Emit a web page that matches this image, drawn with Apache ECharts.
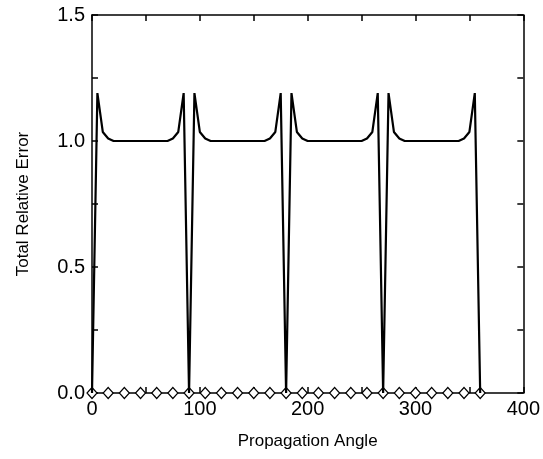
<!DOCTYPE html>
<html><head><meta charset="utf-8">
<script src="https://cdn.jsdelivr.net/npm/echarts@6/dist/echarts.min.js"></script>
<style>html,body{margin:0;padding:0;background:#fff}#c{width:543px;height:459px}</style>
</head><body><div id="c"></div>
<script>
const angles = [0,5,10,15,20,25,30,35,40,45,50,55,60,65,70,75,80,85,
  90,95,100,105,110,115,120,125,130,135,140,145,150,155,160,165,170,175,
  180,185,190,195,200,205,210,215,220,225,230,235,240,245,250,255,260,265,
  270,275,280,285,290,295,300,305,310,315,320,325,330,335,340,345,350,355,360];
const totalError = [0,1.19,1.036,1.01,1.0,1.0,1.0,1.0,1.0,1.0,1.0,1.0,1.0,1.0,1.0,1.01,1.036,1.19,
  0,1.19,1.036,1.01,1.0,1.0,1.0,1.0,1.0,1.0,1.0,1.0,1.0,1.0,1.0,1.01,1.036,1.19,
  0,1.19,1.036,1.01,1.0,1.0,1.0,1.0,1.0,1.0,1.0,1.0,1.0,1.0,1.0,1.01,1.036,1.19,
  0,1.19,1.036,1.01,1.0,1.0,1.0,1.0,1.0,1.0,1.0,1.0,1.0,1.0,1.0,1.01,1.036,1.19,0];
const markerAngles = [0,15,30,45,60,75,90,105,120,135,150,165,180,195,210,225,240,255,270,285,300,315,330,345,360];
const markerValues = [0,0,0,0,0,0,0,0,0,0,0,0,0,0,0,0,0,0,0,0,0,0,0,0,0];
const xTicks = [0,100,200,300,400];
const yTicks = [0.0,0.5,1.0,1.5];

const font = 'Liberation Sans, Arial, sans-serif';
const axLine = {show:true,onZero:false,lineStyle:{color:'#000',width:1.5}};
const tick = {show:true,inside:true,length:6,lineStyle:{color:'#000',width:1.5}};
function xAx(pos, labels){
  return {type:'value',position:pos,min:0,max:400,interval:50,
    name: labels ? 'Propagation Angle' : '', nameLocation:'middle', nameGap:40,
    nameTextStyle:{fontFamily:font,fontSize:17,color:'#000'},
    axisLine:axLine, axisTick:tick,
    axisLabel:{show:labels,fontFamily:font,fontSize:20,color:'#000',margin:6,
      formatter:v=>xTicks.includes(v)?String(v):''},
    splitLine:{show:false}};
}
function yAx(pos, labels){
  return {type:'value',position:pos,min:0,max:1.5,interval:0.25,
    name: labels ? 'Total Relative Error' : '', nameLocation:'middle', nameGap:60,
    nameTextStyle:{fontFamily:font,fontSize:17,color:'#000'},
    axisLine:axLine, axisTick:tick,
    axisLabel:{show:labels,fontFamily:font,fontSize:20,color:'#000',margin:7,
      formatter:v=>yTicks.some(t=>Math.abs(t-v)<1e-9)?v.toFixed(1):''},
    splitLine:{show:false}};
}
const chart = echarts.init(document.getElementById('c'),null,{renderer:'canvas'});
chart.setOption({
  animation:false,
  backgroundColor:'#fff',
  grid:{left:92,right:18,top:15,bottom:66,containLabel:false},
  xAxis:[xAx('bottom',true), xAx('top',false)],
  yAxis:[yAx('left',true), yAx('right',false)],
  series:[
    {type:'line',xAxisIndex:0,yAxisIndex:0,data:markerAngles.map((a,i)=>[a,markerValues[i]]),
      symbol:'diamond',symbolSize:[10,11],showSymbol:true,
      lineStyle:{width:0,color:'#000'},
      itemStyle:{color:'#fff',borderColor:'#000',borderWidth:1.2},z:2},
    {type:'line',xAxisIndex:0,yAxisIndex:0,data:angles.map((a,i)=>[a,totalError[i]]),
      symbol:'none',lineStyle:{width:2.2,color:'#000'},z:3},
    {type:'line',xAxisIndex:1,yAxisIndex:1,data:[],symbol:'none'}
  ]
});
</script></body></html>
